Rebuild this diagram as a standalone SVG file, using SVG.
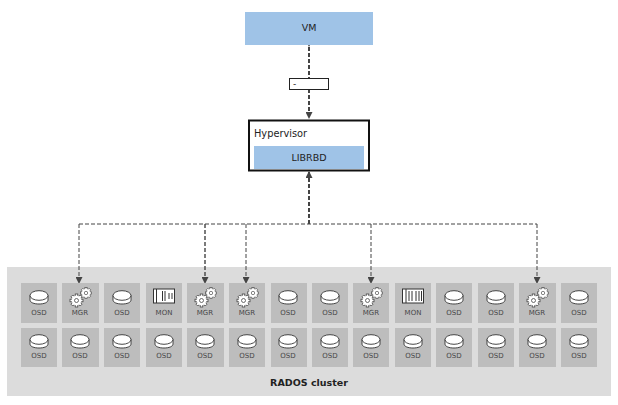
<svg xmlns="http://www.w3.org/2000/svg" width="618" height="405" viewBox="0 0 618 405">
<style>
text{font-family:"DejaVu Sans","Liberation Sans",sans-serif;fill:#222}
.t{font-size:9.500px;text-anchor:middle}
.l{font-size:7px;text-anchor:middle;fill:#484848}
.c{fill:#bdbdbd}
.blue{fill:#9fc3e7}
.d{fill:none;stroke:#444;stroke-dasharray:4 2}
.i{fill:#fff;stroke:#333;stroke-width:.9}
.g{fill:#fff;stroke:#333;stroke-width:.7}
.m{fill:none;stroke:#333;stroke-width:1}
</style>
<defs>
<marker id="a" markerWidth="8" markerHeight="7" refX="7" refY="3.5" orient="auto" markerUnits="userSpaceOnUse"><path d="M0 0L7 3.5L0 7Z" fill="#444"/></marker>
<g id="disk"><path class="i" d="M-9 -2V2.500C-9 5 -5 6.500 0 6.500S9 5 9 2.500V-2Z"/><ellipse class="i" cx="0" cy="-2" rx="9" ry="4.800"/></g>
<g id="gear"><rect class="g" x="-6.500" y="-1.300" width="13" height="2.600"/><rect class="g" x="-6.500" y="-1.300" width="13" height="2.600" transform="rotate(45)"/><rect class="g" x="-6.500" y="-1.300" width="13" height="2.600" transform="rotate(90)"/><rect class="g" x="-6.500" y="-1.300" width="13" height="2.600" transform="rotate(135)"/><circle class="g" r="4.800" style="stroke:none"/><circle class="g" r="2"/></g>
<g id="mgr"><use href="#gear" transform="translate(6 -5) scale(.85)"/><use href="#gear" transform="translate(-3.500 2.500)"/></g>
<g id="mon1"><rect x="-10.500" y="-7" width="21" height="14" fill="#fff" stroke="#333"/><path class="m" d="M-7.500 -7V7M-1.500 -5V5M1 -5V5M5 -3V3M8 -3V3"/></g>
<g id="mon2"><rect x="-10.500" y="-7" width="21" height="14" fill="#fff" stroke="#333"/><path class="m" d="M-7 -7V7M-4 -5V5M-1 -5V5M3 -5V5M6 -5V5M8.500 -5V5"/></g>
</defs>
<rect id="cluster" x="7" y="267" width="604" height="129" fill="#dcdcdc"/>
<g id="connectors">
<path class="d" stroke-width="2" d="M309 47V78" marker-start="url(#a)"/>
<path class="d" stroke-width="2" d="M309 89V119" marker-end="url(#a)"/>
<path class="d" stroke-width="2" d="M309 224V171" marker-end="url(#a)"/>
<path class="d" d="M79 224H537"/>
<path class="d" d="M79 224V284" marker-end="url(#a)"/>
<path class="d" stroke-width="1.400" d="M205 224V284" marker-end="url(#a)"/>
<path class="d" d="M246 224V284" marker-end="url(#a)"/>
<path class="d" d="M371 224V284" marker-end="url(#a)"/>
<path class="d" d="M537 224V284" marker-end="url(#a)"/>
</g>
<g id="vm"><rect class="blue" x="245" y="12" width="128" height="33"/><text class="t" x="309" y="31">VM</text></g>
<g id="edge-label"><rect x="289.500" y="78.500" width="39" height="11" fill="#fff" stroke="#222"/><text x="293" y="87" font-size="9">-</text></g>
<g id="hypervisor"><rect x="249" y="120.500" width="120" height="50" fill="#fff" stroke="#111" stroke-width="2"/><text x="254" y="137" font-size="9.800">Hypervisor</text></g>
<g id="librbd"><rect class="blue" x="254" y="146" width="110" height="23"/><text class="t" x="309" y="161">LIBRBD</text></g>
<g id="row1">
<g id="n1"><rect class="c" x="21" y="283" width="36" height="40"/><use href="#disk" x="39" y="297.500"/><text class="l" x="39" y="315">OSD</text></g>
<g id="n2"><rect class="c" x="62" y="283" width="37" height="40"/><use href="#mgr" x="80" y="298"/><text class="l" x="80" y="315">MGR</text></g>
<g id="n3"><rect class="c" x="104" y="283" width="36" height="40"/><use href="#disk" x="122" y="297.500"/><text class="l" x="122" y="315">OSD</text></g>
<g id="n4"><rect class="c" x="146" y="283" width="36" height="40"/><use href="#mon1" x="164" y="296"/><text class="l" x="164" y="315">MON</text></g>
<g id="n5"><rect class="c" x="187" y="283" width="37" height="40"/><use href="#mgr" x="205" y="298"/><text class="l" x="205" y="315">MGR</text></g>
<g id="n6"><rect class="c" x="229" y="283" width="36" height="40"/><use href="#mgr" x="247" y="298"/><text class="l" x="247" y="315">MGR</text></g>
<g id="n7"><rect class="c" x="271" y="283" width="36" height="40"/><use href="#disk" x="288" y="297.500"/><text class="l" x="288" y="315">OSD</text></g>
<g id="n8"><rect class="c" x="312" y="283" width="36" height="40"/><use href="#disk" x="330" y="297.500"/><text class="l" x="330" y="315">OSD</text></g>
<g id="n9"><rect class="c" x="353" y="283" width="36" height="40"/><use href="#mgr" x="371" y="298"/><text class="l" x="371" y="315">MGR</text></g>
<g id="n10"><rect class="c" x="395" y="283" width="36" height="40"/><use href="#mon2" x="413" y="296"/><text class="l" x="413" y="315">MON</text></g>
<g id="n11"><rect class="c" x="436" y="283" width="36" height="40"/><use href="#disk" x="454" y="297.500"/><text class="l" x="454" y="315">OSD</text></g>
<g id="n12"><rect class="c" x="478" y="283" width="36" height="40"/><use href="#disk" x="496" y="297.500"/><text class="l" x="496" y="315">OSD</text></g>
<g id="n13"><rect class="c" x="519" y="283" width="37" height="40"/><use href="#mgr" x="537" y="298"/><text class="l" x="537" y="315">MGR</text></g>
<g id="n14"><rect class="c" x="561" y="283" width="36" height="40"/><use href="#disk" x="579" y="297.500"/><text class="l" x="579" y="315">OSD</text></g>
</g>
<g id="row2">
<g id="m1"><rect class="c" x="21" y="328" width="36" height="39"/><use href="#disk" x="39" y="341.500"/><text class="l" x="39" y="358">OSD</text></g>
<g id="m2"><rect class="c" x="62" y="328" width="37" height="39"/><use href="#disk" x="80" y="341.500"/><text class="l" x="80" y="358">OSD</text></g>
<g id="m3"><rect class="c" x="104" y="328" width="36" height="39"/><use href="#disk" x="122" y="341.500"/><text class="l" x="122" y="358">OSD</text></g>
<g id="m4"><rect class="c" x="146" y="328" width="36" height="39"/><use href="#disk" x="164" y="341.500"/><text class="l" x="164" y="358">OSD</text></g>
<g id="m5"><rect class="c" x="187" y="328" width="37" height="39"/><use href="#disk" x="205" y="341.500"/><text class="l" x="205" y="358">OSD</text></g>
<g id="m6"><rect class="c" x="229" y="328" width="36" height="39"/><use href="#disk" x="247" y="341.500"/><text class="l" x="247" y="358">OSD</text></g>
<g id="m7"><rect class="c" x="271" y="328" width="36" height="39"/><use href="#disk" x="288" y="341.500"/><text class="l" x="288" y="358">OSD</text></g>
<g id="m8"><rect class="c" x="312" y="328" width="36" height="39"/><use href="#disk" x="330" y="341.500"/><text class="l" x="330" y="358">OSD</text></g>
<g id="m9"><rect class="c" x="353" y="328" width="36" height="39"/><use href="#disk" x="371" y="341.500"/><text class="l" x="371" y="358">OSD</text></g>
<g id="m10"><rect class="c" x="395" y="328" width="36" height="39"/><use href="#disk" x="413" y="341.500"/><text class="l" x="413" y="358">OSD</text></g>
<g id="m11"><rect class="c" x="436" y="328" width="36" height="39"/><use href="#disk" x="454" y="341.500"/><text class="l" x="454" y="358">OSD</text></g>
<g id="m12"><rect class="c" x="478" y="328" width="36" height="39"/><use href="#disk" x="496" y="341.500"/><text class="l" x="496" y="358">OSD</text></g>
<g id="m13"><rect class="c" x="519" y="328" width="37" height="39"/><use href="#disk" x="537" y="341.500"/><text class="l" x="537" y="358">OSD</text></g>
<g id="m14"><rect class="c" x="561" y="328" width="36" height="39"/><use href="#disk" x="579" y="341.500"/><text class="l" x="579" y="358">OSD</text></g>
</g>
<text x="309" y="386" font-size="9.500" font-weight="bold" text-anchor="middle">RADOS cluster</text>
</svg>
